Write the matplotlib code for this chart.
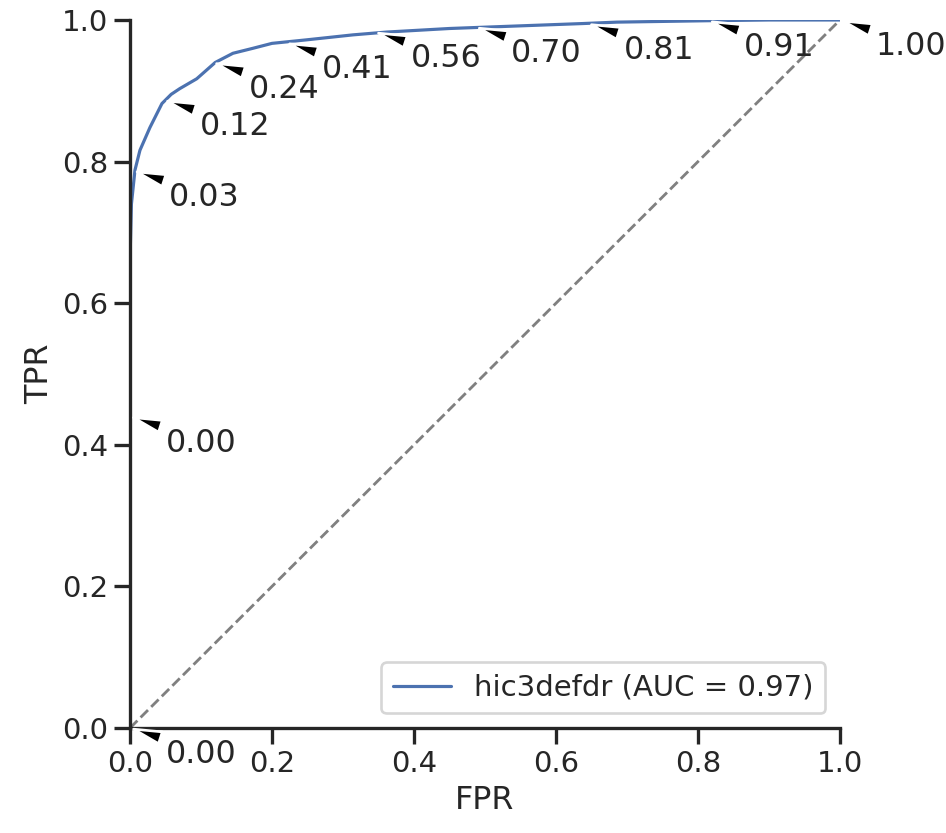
import matplotlib
matplotlib.use('Agg')
import matplotlib.pyplot as plt
import seaborn as sns

# ROC curve points
fpr = [0.0, 0.0, 0.0, 0.002, 0.007, 0.014, 0.028, 0.045, 0.058, 0.07, 0.094,
       0.12, 0.145, 0.173, 0.2, 0.249, 0.314, 0.362, 0.45, 0.53, 0.638,
       0.686, 0.815, 0.9, 1.0]
tpr = [0.0, 0.44, 0.66, 0.74, 0.788, 0.816, 0.848, 0.882, 0.895, 0.903, 0.917,
       0.94, 0.953, 0.96, 0.967, 0.972, 0.979, 0.983, 0.988, 0.991, 0.995,
       0.997, 0.999, 1.0, 1.0]

# threshold annotations
ann_fpr = [0.0, 0.0, 0.005, 0.048, 0.117, 0.22, 0.345, 0.487, 0.645, 0.815, 1.0]
ann_tpr = [0.0, 0.44, 0.787, 0.887, 0.94, 0.968, 0.983, 0.99, 0.995, 0.999, 1.0]
ann_thr = [0.00, 0.00, 0.03, 0.12, 0.24, 0.41, 0.56, 0.70, 0.81, 0.91, 1.00]

auc = 0.97
name = 'hic3defdr'

sns.set_theme(context='talk', style='ticks')

dpi = 127
fig = plt.figure(figsize=(946 / dpi, 833 / dpi), dpi=dpi)
ax = fig.add_axes([130 / 946, 105 / 833, 710 / 946, 708 / 833])

ax.plot(fpr, tpr, lw=1.8, label=f'{name} (AUC = {auc:.2f})')
ax.plot([0, 1], [0, 1], '--', color='gray', lw=1.6)

for x, y, t in zip(ann_fpr, ann_tpr, ann_thr):
    ax.annotate(f'{t:.2f}', xy=(x, y), xytext=(x + 0.05, y - 0.05),
                arrowprops=dict(facecolor='black', shrink=0.1,
                                width=2, headwidth=7, headlength=16))

ax.set_xlim(0, 1)
ax.set_ylim(0, 1)
ax.set_xlabel('FPR')
ax.set_ylabel('TPR')
ax.legend(loc='lower right')
sns.despine(ax=ax)

fig.savefig('out.png', dpi=dpi)
